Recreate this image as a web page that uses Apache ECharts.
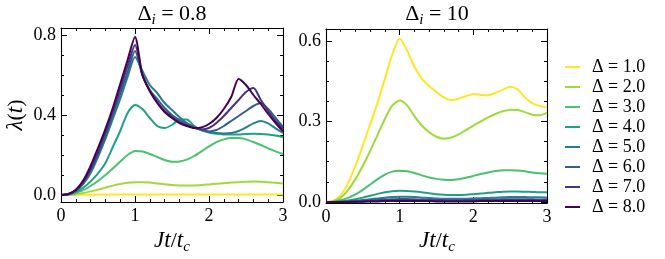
<!DOCTYPE html>
<html><head><meta charset="utf-8">
<script src="https://cdn.jsdelivr.net/npm/echarts@6/dist/echarts.min.js"></script>
<style>html,body{margin:0;padding:0;background:#fff}#c{width:665px;height:259px}</style>
</head><body><div id="c"></div><script>
// ---- data ----
const T = [0,0.1,0.2,0.3,0.4,0.5,0.6,0.7,0.8,0.9,1.0,1.1,1.2,1.3,1.4,1.5,1.6,1.7,1.8,1.9,2.0,2.1,2.2,2.3,2.4,2.5,2.6,2.7,2.8,2.9,3.0];
const seriesNames = ['Δ = 1.0','Δ = 2.0','Δ = 3.0','Δ = 4.0','Δ = 5.0','Δ = 6.0','Δ = 7.0','Δ = 8.0'];
const colors = ['#fde725','#a0da39','#4ac16d','#1fa187','#277f8e','#365c8d','#46327e','#440154'];
const titles = ['0.8','10'];

// Δ_i = 0.8 panel
const L1 = [0,0,0.001,0.001,0.001,0.002,0.002,0.002,0.002,0.002,0.002,0.002,0.002,0.002,0.002,0.002,0.002,0.002,0.002,0.002,0.002,0.002,0.002,0.002,0.002,0.002,0.002,0.002,0.002,0.002,0.002];
const L2 = [0,0.001,0.004,0.01,0.018,0.027,0.037,0.047,0.055,0.061,0.064,0.064,0.062,0.058,0.054,0.05,0.048,0.047,0.048,0.05,0.053,0.056,0.059,0.062,0.064,0.066,0.067,0.066,0.064,0.061,0.058];
const L3 = [0,0.002,0.01,0.024,0.045,0.07,0.1,0.132,0.167,0.2,0.22,0.217,0.205,0.19,0.175,0.166,0.167,0.177,0.195,0.218,0.243,0.264,0.278,0.285,0.285,0.278,0.265,0.25,0.233,0.218,0.205];
const L4 = [0,0.003,0.015,0.036,0.068,0.108,0.16,0.24,0.32,0.41,0.45,0.43,0.385,0.345,0.335,0.35,0.378,0.378,0.345,0.323,0.312,0.306,0.303,0.302,0.303,0.305,0.306,0.305,0.302,0.297,0.29];
const L5 = [0,0.004,0.02,0.055,0.11,0.19,0.28,0.38,0.48,0.59,0.69,0.62,0.55,0.51,0.46,0.425,0.39,0.36,0.34,0.325,0.315,0.31,0.308,0.31,0.32,0.338,0.358,0.37,0.358,0.333,0.31];
const L6 = [0,0.004,0.022,0.06,0.122,0.2,0.295,0.4,0.505,0.615,0.72,0.6,0.525,0.48,0.435,0.4,0.375,0.355,0.34,0.327,0.318,0.325,0.345,0.37,0.395,0.42,0.445,0.46,0.43,0.385,0.34];
const L7 = [0,0.005,0.024,0.065,0.13,0.215,0.315,0.42,0.53,0.645,0.75,0.6,0.52,0.465,0.42,0.39,0.365,0.348,0.335,0.328,0.335,0.36,0.395,0.435,0.475,0.515,0.535,0.475,0.42,0.37,0.33];
const L8 = [0,0.005,0.026,0.072,0.145,0.235,0.33,0.435,0.555,0.675,0.79,0.6,0.52,0.46,0.415,0.385,0.36,0.345,0.335,0.338,0.355,0.385,0.43,0.49,0.58,0.55,0.5,0.455,0.405,0.36,0.318];

// Δ_i = 10 panel
const R1 = [0,0.004,0.025,0.07,0.135,0.21,0.29,0.37,0.46,0.55,0.61,0.565,0.505,0.46,0.432,0.41,0.39,0.38,0.385,0.395,0.403,0.399,0.398,0.407,0.418,0.43,0.42,0.39,0.368,0.358,0.353];
const R2 = [0,0.003,0.016,0.045,0.085,0.135,0.19,0.25,0.31,0.36,0.378,0.36,0.32,0.285,0.26,0.243,0.236,0.24,0.252,0.268,0.285,0.3,0.315,0.328,0.338,0.344,0.343,0.335,0.325,0.323,0.332];
const R3 = [0,0.001,0.006,0.015,0.028,0.045,0.065,0.085,0.102,0.113,0.116,0.114,0.108,0.099,0.091,0.086,0.083,0.082,0.085,0.09,0.097,0.104,0.11,0.115,0.118,0.118,0.117,0.114,0.11,0.107,0.105];
const R4 = [0,0,0.002,0.005,0.01,0.016,0.023,0.03,0.036,0.04,0.042,0.041,0.039,0.036,0.032,0.029,0.027,0.026,0.026,0.027,0.029,0.031,0.034,0.036,0.038,0.039,0.039,0.038,0.037,0.036,0.036];
const R5 = [0,0,0.001,0.002,0.004,0.007,0.01,0.013,0.016,0.018,0.019,0.019,0.018,0.016,0.015,0.013,0.012,0.012,0.012,0.012,0.013,0.014,0.015,0.016,0.017,0.018,0.018,0.018,0.017,0.017,0.016];
const R6 = [0,0,0,0.001,0.002,0.004,0.006,0.008,0.009,0.01,0.011,0.011,0.01,0.009,0.008,0.007,0.007,0.006,0.006,0.007,0.007,0.008,0.008,0.009,0.01,0.01,0.01,0.01,0.01,0.009,0.009];
const R7 = [0,0,0,0.001,0.001,0.002,0.003,0.004,0.005,0.006,0.006,0.006,0.006,0.005,0.005,0.004,0.004,0.004,0.004,0.004,0.004,0.005,0.005,0.005,0.006,0.006,0.006,0.006,0.006,0.005,0.005];
const R8 = [0,0,0,0,0.001,0.001,0.002,0.002,0.003,0.003,0.003,0.003,0.003,0.003,0.003,0.002,0.002,0.002,0.002,0.002,0.002,0.003,0.003,0.003,0.003,0.003,0.003,0.003,0.003,0.003,0.003];

// tick values
const xMajor = [0,1,2,3];
const xMinor = [0.2,0.4,0.6,0.8,1.2,1.4,1.6,1.8,2.2,2.4,2.6,2.8];
const lyMajor = [0,0.4,0.8];
const lyMinor = [0.1,0.2,0.3,0.5,0.6,0.7];
const ryMajor = [0,0.3,0.6];
const ryMinor = [0.075,0.15,0.225,0.375,0.45,0.525];

const leftSets = [L1,L2,L3,L4,L5,L6,L7,L8];
const rightSets = [R1,R2,R3,R4,R5,R6,R7,R8];

// ---- chart ----
const FONT = '"Liberation Serif", "DejaVu Serif", serif';
const chart = echarts.init(document.getElementById('c'), null, {renderer:'canvas'});

function axisSet(kind, g, min, max, major, minor, fmt) {
  const posA = kind === 'x' ? 'bottom' : 'left';
  const posB = kind === 'x' ? 'top' : 'right';
  const base = {type:'value', gridIndex:g, min:min, max:max, splitLine:{show:false}};
  const line = {show:true, onZero:false, lineStyle:{color:'#000', width:1.1}};
  const noLine = {show:false, onZero:false};
  return [
    Object.assign({}, base, {position:posA, axisLine:line,
      axisTick:{show:true, inside:true, length:6, customValues:major, lineStyle:{color:'#000', width:1}},
      axisLabel:{show:true, customValues:major, margin:5, color:'#000', fontFamily:FONT, fontSize:18, formatter:fmt}}),
    Object.assign({}, base, {position:posA, axisLine:noLine,
      axisTick:{show:true, inside:true, length:3, customValues:minor, lineStyle:{color:'#000', width:1}},
      axisLabel:{show:false}}),
    Object.assign({}, base, {position:posB, axisLine:line,
      axisTick:{show:true, inside:true, length:6, customValues:major, lineStyle:{color:'#000', width:1}},
      axisLabel:{show:false}}),
    Object.assign({}, base, {position:posB, axisLine:noLine,
      axisTick:{show:true, inside:true, length:3, customValues:minor, lineStyle:{color:'#000', width:1}},
      axisLabel:{show:false}})
  ];
}

const xFmt = v => String(Math.round(v));
const yFmt = v => v.toFixed(1);

const xAxes = axisSet('x',0,0,3,xMajor,xMinor,xFmt).concat(axisSet('x',1,0,3,xMajor,xMinor,xFmt));
const yAxes = axisSet('y',0,-0.035,0.835,lyMajor,lyMinor,yFmt).concat(axisSet('y',1,-0.004,0.645,ryMajor,ryMinor,yFmt));

const series = [];
function addSeries(sets, axisIdx) {
  sets.forEach((arr, k) => {
    series.push({
      type:'line', name:seriesNames[k], xAxisIndex:axisIdx, yAxisIndex:axisIdx,
      data: T.map((t,i) => [t, arr[i]]),
      symbol:'none', smooth:0.25, clip:true,
      lineStyle:{width:2, color:colors[k]}, itemStyle:{color:colors[k]},
      z: 2 + k
    });
  });
}
addSeries(leftSets, 0);
addSeries(rightSets, 4);

const rich = {
  r:{fontFamily:FONT, fontSize:22, color:'#000'},
  m:{fontFamily:FONT, fontSize:23, fontStyle:'italic', color:'#000'},
  s:{fontFamily:FONT, fontSize:15, fontStyle:'italic', color:'#000', padding:[13,0,0,0]}
};

chart.setOption({
  animation:false,
  backgroundColor:'#fff',
  grid:[
    {left:61, top:28, width:222, height:174},
    {left:326, top:29, width:221, height:174}
  ],
  xAxis:xAxes,
  yAxis:yAxes,
  legend:{
    show:true, orient:'vertical', left:560, top:53,
    data:seriesNames, icon:'rect',
    itemWidth:15, itemHeight:2, itemGap:2,
    textStyle:{fontFamily:FONT, fontSize:18, color:'#000', lineHeight:14, padding:[0,0,0,7]}
  },
  graphic:[
    {type:'text', x:172, y:14, style:{text:'{r|Δ}{s|i}{r| = '+titles[0]+'}', rich:rich, align:'center', verticalAlign:'middle'}},
    {type:'text', x:437, y:14, style:{text:'{r|Δ}{s|i}{r| = '+titles[1]+'}', rich:rich, align:'center', verticalAlign:'middle'}},
    {type:'text', x:172, y:241, style:{text:'{m|Jt}{r|/}{m|t}{s|c}', rich:rich, align:'center', verticalAlign:'middle'}},
    {type:'text', x:437, y:241, style:{text:'{m|Jt}{r|/}{m|t}{s|c}', rich:rich, align:'center', verticalAlign:'middle'}},
    {type:'text', x:16, y:115, rotation:Math.PI/2, style:{text:'{m|λ}{r|(}{m|t}{r|)}', rich:rich, align:'center', verticalAlign:'middle'}}
  ],
  series:series
});
</script></body></html>
